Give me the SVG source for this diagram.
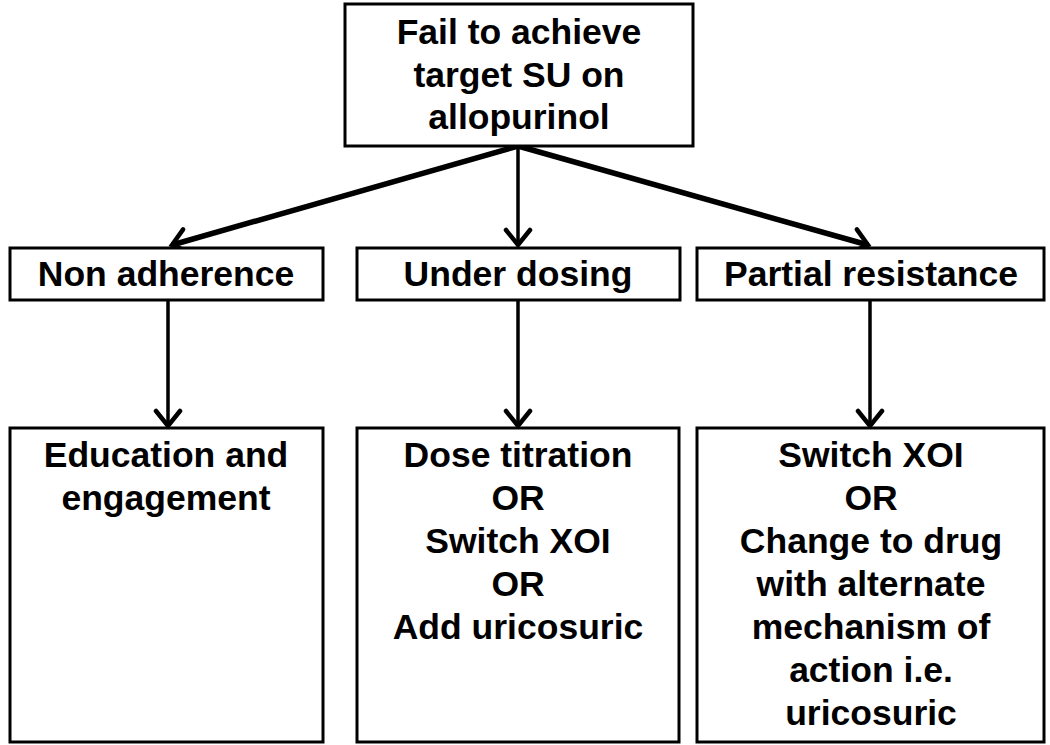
<svg xmlns="http://www.w3.org/2000/svg" width="1050" height="745" viewBox="0 0 1050 745">
  <style>
    .box { fill: #ffffff; stroke: #000000; stroke-width: 3; }
    .lbl { font-family: "Liberation Sans", Arial, sans-serif; font-weight: bold; font-size: 35.5px; fill: #000000; text-anchor: middle; }
    .edge { fill: none; stroke: #000000; }
    .thick { stroke-width: 5.5; }
    .thin { stroke-width: 3.5; }
  </style>
  <defs>
    <marker id="arrow" viewBox="-18 -16 22 32" refX="0" refY="0" markerWidth="22" markerHeight="32" markerUnits="userSpaceOnUse" orient="auto">
      <path d="M-15,-12 L0,0 L-15,12" fill="none" stroke="#000000" stroke-width="4.5" stroke-linecap="round" stroke-linejoin="miter"/>
    </marker>
  </defs>
  <rect width="1050" height="745" fill="#ffffff"/>

  <g id="connectors">
    <line class="edge thick" x1="518" y1="146" x2="172" y2="245" marker-end="url(#arrow)"/>
    <line class="edge thin" x1="518" y1="146" x2="518" y2="245" marker-end="url(#arrow)"/>
    <line class="edge thick" x1="518" y1="146" x2="868" y2="245" marker-end="url(#arrow)"/>
    <line class="edge thin" x1="168" y1="300" x2="168" y2="426" marker-end="url(#arrow)"/>
    <line class="edge thin" x1="518" y1="300" x2="518" y2="426" marker-end="url(#arrow)"/>
    <line class="edge thin" x1="870" y1="300" x2="870" y2="426" marker-end="url(#arrow)"/>
  </g>

  <g id="node-fail">
    <rect class="box" x="345" y="4" width="348" height="142"/>
    <text class="lbl" x="519" y="44">Fail to achieve</text>
    <text class="lbl" x="519" y="87">target SU on</text>
    <text class="lbl" x="519" y="129">allopurinol</text>
  </g>

  <g id="node-nonadherence">
    <rect class="box" x="10" y="248" width="313" height="52"/>
    <text class="lbl" x="166" y="286">Non adherence</text>
  </g>
  <g id="node-underdosing">
    <rect class="box" x="357" y="248" width="323" height="52"/>
    <text class="lbl" x="518" y="286">Under dosing</text>
  </g>
  <g id="node-partial">
    <rect class="box" x="697" y="248" width="347" height="52"/>
    <text class="lbl" x="871" y="286">Partial resistance</text>
  </g>

  <g id="node-education">
    <rect class="box" x="10" y="428" width="313" height="314"/>
    <text class="lbl" x="166" y="467">Education and</text>
    <text class="lbl" x="166" y="510">engagement</text>
  </g>
  <g id="node-dose">
    <rect class="box" x="357" y="428" width="322" height="314"/>
    <text class="lbl" x="518" y="467">Dose titration</text>
    <text class="lbl" x="518" y="510">OR</text>
    <text class="lbl" x="518" y="553">Switch XOI</text>
    <text class="lbl" x="518" y="596">OR</text>
    <text class="lbl" x="518" y="639">Add uricosuric</text>
  </g>
  <g id="node-switch">
    <rect class="box" x="697" y="428" width="347" height="314"/>
    <text class="lbl" x="871" y="467">Switch XOI</text>
    <text class="lbl" x="871" y="510">OR</text>
    <text class="lbl" x="871" y="553">Change to drug</text>
    <text class="lbl" x="871" y="596">with alternate</text>
    <text class="lbl" x="871" y="639">mechanism of</text>
    <text class="lbl" x="871" y="682">action i.e.</text>
    <text class="lbl" x="871" y="725">uricosuric</text>
  </g>
</svg>
